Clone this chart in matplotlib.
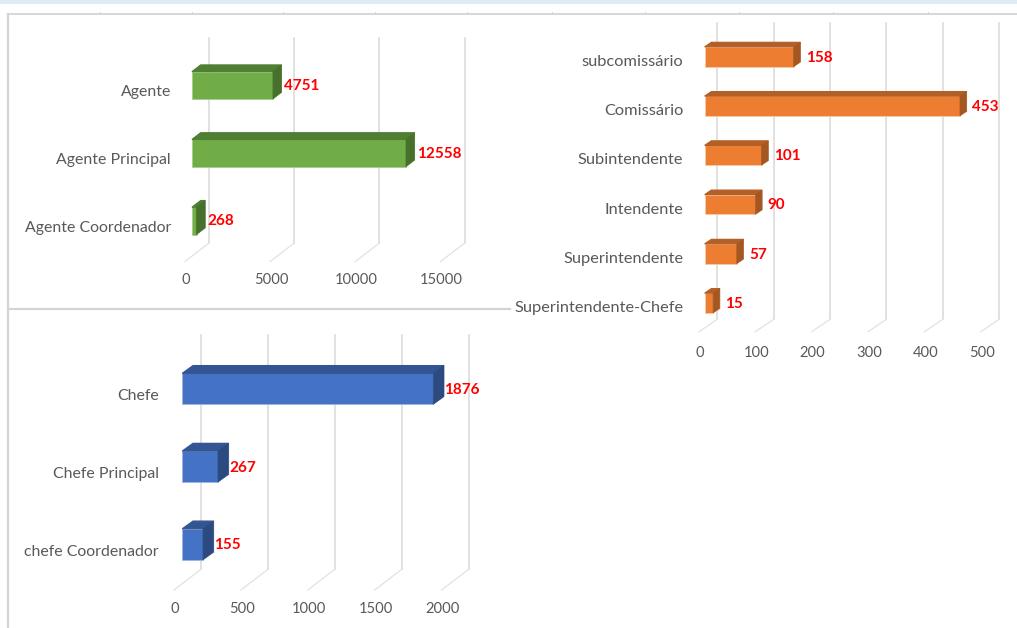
import matplotlib
matplotlib.use("Agg")
import matplotlib.pyplot as plt
from matplotlib.patches import Polygon, Rectangle
from matplotlib.lines import Line2D
from matplotlib.transforms import Affine2D

# ---- data ----
agente_labels = ["Agente", "Agente Principal", "Agente Coordenador"]
agente_values = [4751, 12558, 268]
agente_ticks = [0, 5000, 10000, 15000]

oficial_labels = ["subcomissário", "Comissário", "Subintendente", "Intendente",
                  "Superintendente", "Superintendente-Chefe"]
oficial_values = [158, 453, 101, 90, 57, 15]
oficial_ticks = [0, 100, 200, 300, 400, 500]

chefe_labels = ["Chefe", "Chefe Principal", "chefe Coordenador"]
chefe_values = [1876, 267, 155]
chefe_ticks = [0, 500, 1000, 1500, 2000]

W, H = 1017, 628
plt.rcParams["font.family"] = ["Lato", "DejaVu Sans"]
fig = plt.figure(figsize=(W / 100, H / 100), dpi=100, facecolor="white")


def panel(labels, values, ticks, x0, ppu, yc0, dyc, bar_h, front, back, dep,
          top, back_y, foot_y, tick_y, lab_right, lab_dy, val_gap, val_dy, cols, lab_fs):
    n = len(values)
    xmax = ticks[-1]
    box_top = yc0 - dyc / 2
    box_bot = yc0 + dyc * (n - 0.5)
    ax = fig.add_axes([x0 / W, 1 - box_bot / H, xmax * ppu / W, (box_bot - box_top) / H])
    ax.set_xlim(0, xmax)
    ax.set_ylim(n - 0.5, -0.5)
    ax.patch.set_alpha(0)
    for s in ax.spines.values():
        s.set_visible(False)

    px = lambda d: d / ppu                        # pixels -> x data units
    py = lambda image_y: (image_y - yc0) / dyc    # image row -> y data units

    # gridlines on the back wall and their slanted feet on the floor
    for t in ticks:
        ax.add_line(Line2D([t + px(back)] * 2, [py(top), py(back_y)], color="#d9d9d9",
                           lw=1.1, clip_on=False, zorder=1))
        ax.add_line(Line2D([t + px(front), t + px(back)], [py(foot_y), py(back_y)],
                           color="#e2e2e2", lw=0.9, clip_on=False, zorder=1))

    # 3-D bars
    dxd, dyd = px(dep[0]), dep[1] / dyc
    ys = list(range(n))
    h = bar_h / dyc
    ax.barh(ys, values, height=h, color=cols[0], edgecolor=cols[3], linewidth=0.6, zorder=3)
    for y, v in zip(ys, values):
        t = y - h / 2
        b = y + h / 2
        ax.add_patch(Polygon([(0, t), (v, t), (v + dxd, t - dyd), (dxd, t - dyd)],
                             closed=True, fc=cols[1], ec=cols[1], lw=0.9,
                             clip_on=False, zorder=3.5))
        ax.add_patch(Polygon([(v, t), (v + dxd, t - dyd), (v + dxd, b - dyd), (v, b)],
                             closed=True, fc=cols[2], ec=cols[2], lw=0.5,
                             clip_on=False, zorder=3.5))
        ax.annotate(str(v), xy=(v + dxd, y), xytext=(val_gap * 0.72, -val_dy * 0.72),
                    textcoords="offset points", ha="left", va="center",
                    color="#ff0000", fontsize=11, fontweight="bold",
                    annotation_clip=False, zorder=4)

    # tick labels
    ax.tick_params(axis="both", length=0, labelcolor="#595959")
    ax.tick_params(axis="x", labelsize=10.6, pad=(tick_y - box_bot) * 0.72)
    ax.tick_params(axis="y", labelsize=lab_fs, pad=(x0 - lab_right) * 0.72)
    ax.set_xticks(ticks)
    ax.set_xticklabels([str(t) for t in ticks], va="center")
    ax.set_yticks(ys)
    ax.set_yticklabels(labels)
    for lab in ax.get_xticklabels():
        lab.set_transform(lab.get_transform() + Affine2D().translate(front + 1, 0))
    for lab in ax.get_yticklabels():
        lab.set_transform(lab.get_transform() + Affine2D().translate(0, -lab_dy))
    return ax


GREEN = ("#70ad47", "#507e32", "#47702c", "#a5cf8c")
ORANGE = ("#ed7d31", "#b45f25", "#a55722", "#f8c8a6")
BLUE = ("#4472c4", "#335593", "#2c4a80", "#9db5e0")

panel(agente_labels, agente_values, agente_ticks, x0=192, ppu=255.6 / 15000,
      yc0=85.3, dyc=67.8, bar_h=27.3, front=-7, back=17, dep=(8.7, 6.7),
      top=38, back_y=243, foot_y=261.5, tick_y=280.5, lab_right=171, lab_dy=5.4,
      val_gap=2.2, val_dy=0.5, cols=GREEN, lab_fs=11.4)

panel(oficial_labels, oficial_values, oficial_ticks, x0=704.7, ppu=255.3 / 453,
      yc0=56.7, dyc=49.26, bar_h=19.7, front=-5.7, back=12.6, dep=(6.7, 4.5),
      top=22.7, back_y=319.3, foot_y=331.7, tick_y=353.3, lab_right=683.5, lab_dy=3.6,
      val_gap=5.3, val_dy=1, cols=ORANGE, lab_fs=11.8)

panel(chefe_labels, chefe_values, chefe_ticks, x0=182.3, ppu=251 / 1876,
      yc0=388.8, dyc=77.75, bar_h=31, front=-8.3, back=18.7, dep=(10.7, 7.7),
      top=335, back_y=569.3, foot_y=590, tick_y=609, lab_right=158.7, lab_dy=6,
      val_gap=0.5, val_dy=1, cols=BLUE, lab_fs=11.4)

# surrounding sheet: top band, frame rules and small ruler notches
def X(p):
    return p / W


def Y(p):
    return 1 - p / H


fig.add_artist(Rectangle((0, Y(4)), 1, 4 / H, transform=fig.transFigure,
                         fc="#deeaf6", ec="none"))
for xs, ys, lw in [((8, 1017), (14, 14), 1.3), ((8, 8), (14, 628), 1.6),
                   ((8, 510), (309, 309), 1.6)]:
    fig.add_artist(Line2D([X(a) for a in xs], [Y(b) for b in ys],
                          transform=fig.transFigure, color="#d4d4d4", lw=lw))
for p in [100, 191.5, 283, 375, 467, 552, 645, 739, 833, 928]:
    fig.add_artist(Line2D([X(p), X(p)], [Y(12), Y(14)], transform=fig.transFigure,
                          color="#d4d4d4", lw=0.7))

fig.savefig("out.png", dpi=100)
